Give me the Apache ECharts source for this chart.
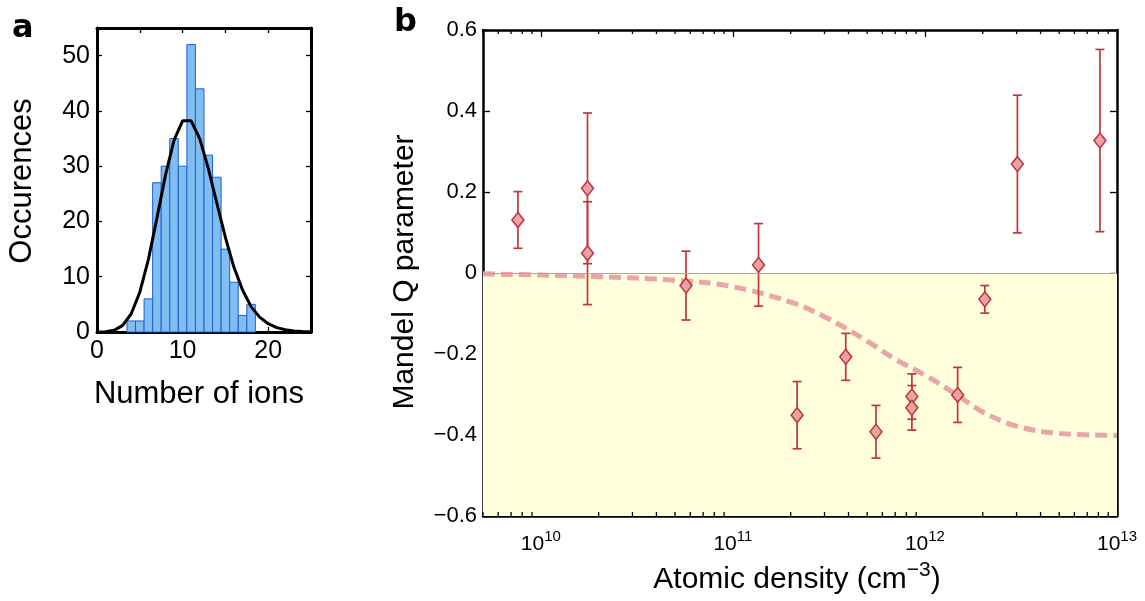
<!DOCTYPE html>
<html><head><meta charset="utf-8">
<script src="https://cdn.jsdelivr.net/npm/echarts@6/dist/echarts.min.js"></script>
<style>html,body{margin:0;padding:0;background:#fff}#c{width:1145px;height:601px}</style>
</head><body><div id="c"></div>
<script>
const FONT = "'Liberation Sans', Arial, Helvetica, sans-serif";

// ---- Panel a: histogram of ion numbers ----
const ionCounts   = [4, 5, 6, 7, 8, 9, 10, 11, 12, 13, 14, 15, 16, 17, 18];
const occurrences = [2, 2, 6, 27, 30, 35, 30, 52, 44, 32, 28, 15, 9, 3, 5];
const fitX = [0, 1, 2, 3, 4, 5, 6, 7, 8, 9, 10, 11, 12, 13, 14, 15, 16, 17, 18, 19, 20, 21, 22, 23, 24, 25];
const fitY = [0.01, 0.06, 0.3, 1.2, 3.3, 7.2, 13.1, 20.6, 28.4, 34.7, 38.2, 38.2, 35.0, 29.6, 23.3, 17.1, 11.7, 7.6, 4.6, 2.7, 1.5, 0.8, 0.4, 0.2, 0.1, 0.04];
const xTicksA = [0, 10, 20];

// ---- Panel b: Mandel Q parameter vs atomic density ----
const density = [7.6e9, 1.75e10, 1.75e10, 5.7e10, 1.36e11, 2.16e11, 3.87e11, 5.56e11, 8.55e11, 8.55e11, 1.48e12, 2.05e12, 3.03e12, 8.15e12];
const mandelQ = [0.131, 0.209, 0.049, -0.031, 0.020, -0.351, -0.207, -0.392, -0.305, -0.333, -0.301, -0.065, 0.269, 0.327];
const qError  = [0.070, 0.186, 0.127, 0.085, 0.102, 0.083, 0.058, 0.065, 0.056, 0.055, 0.068, 0.034, 0.170, 0.225];
const modelDensity = [5e9, 1e10, 2e10, 5e10, 1e11, 2e11, 3e11, 5e11, 7e11, 1e12, 1.5e12, 2e12, 3e12, 5e12, 1e13];
const modelQ       = [-0.002, -0.005, -0.009, -0.018, -0.034, -0.072, -0.108, -0.168, -0.213, -0.252, -0.304, -0.343, -0.378, -0.396, -0.401];
const majorDecades = [10, 11, 12, 13];
const minorMult = [2, 3, 4, 5, 6, 7, 8, 9];
const minorDecades = [9, 10, 11, 12];

const minorTicks = [];
minorDecades.forEach(d => minorMult.forEach(m => {
  const v = m * Math.pow(10, d);
  if (v >= 5e9 && v <= 1e13) minorTicks.push([v, 0]);
}));

const chart = echarts.init(document.getElementById('c'), null, {renderer: 'canvas'});

const axisLineBlack = w => ({show: true, onZero: false, lineStyle: {color: '#000', width: w}});
const tickIn = len => ({show: true, inside: true, length: len, lineStyle: {color: '#000', width: 1.3}});

function logLabel(v) {
  const e = Math.log10(v);
  const r = Math.round(e);
  if (Math.abs(e - r) > 1e-6 || majorDecades.indexOf(r) < 0) return '';
  return '{b|10}{s|' + r + '}';
}
function qLabel(v) {
  const r = Math.round(v * 10) / 10;
  if (Math.abs(r) < 1e-9) return '0';
  return (r < 0 ? '\u2212' : '') + Math.abs(r).toFixed(1);
}

const option = {
  backgroundColor: '#fff',
  animation: false,
  textStyle: {fontFamily: FONT},
  grid: [
    {left: 97, top: 28, width: 214, height: 304, outerBoundsMode: 'none', containLabel: false},
    {left: 483, top: 30, width: 634, height: 486, outerBoundsMode: 'none', containLabel: false}
  ],
  xAxis: [
    {gridIndex: 0, type: 'value', min: 0, max: 25, interval: 5, position: 'bottom',
     axisLine: axisLineBlack(3), axisTick: tickIn(5), splitLine: {show: false},
     axisLabel: {fontSize: 25, color: '#000', margin: 7, fontFamily: FONT,
       formatter: v => xTicksA.indexOf(v) >= 0 ? String(v) : ''}},
    {gridIndex: 0, type: 'value', min: 0, max: 25, interval: 5, position: 'top',
     axisLine: axisLineBlack(3), axisTick: tickIn(5), axisLabel: {show: false}, splitLine: {show: false}},
    {gridIndex: 1, type: 'log', logBase: 10, min: 5e9, max: 1e13, position: 'bottom',
     axisLine: axisLineBlack(2.5), axisTick: tickIn(7), splitLine: {show: false}, minorTick: {show: false},
     axisLabel: {color: '#000', margin: 13, fontFamily: FONT, formatter: logLabel,
       showMinLabel: true, showMaxLabel: true, hideOverlap: false,
       rich: {b: {fontSize: 21, fontFamily: FONT, color: '#000'},
              s: {fontSize: 15, fontFamily: FONT, color: '#000', padding: [0, 0, 16, 0]}}}},
    {gridIndex: 1, type: 'log', logBase: 10, min: 5e9, max: 1e13, position: 'top',
     axisLine: axisLineBlack(2.5), axisTick: tickIn(7), axisLabel: {show: false}, splitLine: {show: false}}
  ],
  yAxis: [
    {gridIndex: 0, type: 'value', min: 0, max: 55, interval: 10, position: 'left',
     axisLine: axisLineBlack(3), axisTick: tickIn(5), splitLine: {show: false},
     axisLabel: {fontSize: 25, color: '#000', margin: 7, fontFamily: FONT,
       formatter: v => (v % 10 === 0 ? String(v) : '')}},
    {gridIndex: 0, type: 'value', min: 0, max: 55, interval: 10, position: 'right',
     axisLine: axisLineBlack(3), axisTick: tickIn(5), axisLabel: {show: false}, splitLine: {show: false}},
    {gridIndex: 1, type: 'value', min: -0.6, max: 0.6, interval: 0.2, position: 'left',
     axisLine: axisLineBlack(2.5), axisTick: tickIn(7), splitLine: {show: false},
     axisLabel: {fontSize: 22, color: '#000', margin: 6, fontFamily: FONT, formatter: qLabel}},
    {gridIndex: 1, type: 'value', min: -0.6, max: 0.6, interval: 0.2, position: 'right',
     axisLine: axisLineBlack(2.5), axisTick: tickIn(7), axisLabel: {show: false}, splitLine: {show: false}}
  ],
  graphic: [
    {type: 'text', left: 12, top: 13, style: {text: 'a', font: "bold 32px 'DejaVu Sans', sans-serif", fill: '#000'}},
    {type: 'text', left: 394, top: 7, style: {text: 'b', font: "bold 32px 'DejaVu Sans', sans-serif", fill: '#000'}},
    {type: 'text', x: 22, y: 181, rotation: Math.PI / 2,
     style: {text: 'Occurences', font: "31px " + FONT, fill: '#000', align: 'center', verticalAlign: 'middle'}},
    {type: 'text', x: 199, y: 394,
     style: {text: 'Number of ions', font: "31px " + FONT, fill: '#000', align: 'center', verticalAlign: 'middle'}},
    {type: 'text', x: 405, y: 272, rotation: Math.PI / 2,
     style: {text: 'Mandel Q parameter', font: "30px " + FONT, fill: '#000', align: 'center', verticalAlign: 'middle'}},
    {type: 'text', x: 797, y: 580,
     style: {text: '{t|Atomic density (cm}{s|\u22123}{t|)}', fill: '#000', align: 'center', verticalAlign: 'middle',
       rich: {t: {fontSize: 30, fontFamily: FONT, fill: '#000'},
              s: {fontSize: 21, fontFamily: FONT, fill: '#000', padding: [0, 0, 20, 0]}}}}
  ],
  series: [
    {
      type: 'custom', name: 'histogram', xAxisIndex: 0, yAxisIndex: 0, z: 2,
      data: ionCounts.map((x, i) => [x, occurrences[i]]),
      encode: {x: 0, y: 1},
      renderItem: (params, api) => {
        const x = api.value(0), y = api.value(1);
        const p1 = api.coord([x - 0.5, y]);
        const p2 = api.coord([x + 0.5, 0]);
        return {type: 'rect',
          shape: {x: p1[0], y: p1[1], width: p2[0] - p1[0], height: p2[1] - p1[1]},
          style: {fill: '#80BDF0', stroke: '#1E60D4', lineWidth: 1}};
      }
    },
    {
      type: 'line', name: 'fit', xAxisIndex: 0, yAxisIndex: 0, z: 3,
      data: fitX.map((x, i) => [x, fitY[i]]),
      showSymbol: false, symbol: 'none', smooth: false,
      lineStyle: {color: '#000', width: 3}
    },
    {
      type: 'line', name: 'region', xAxisIndex: 2, yAxisIndex: 2, z: 1,
      data: [[1e11, 0]], symbol: 'none', lineStyle: {opacity: 0}, silent: true,
      markArea: {silent: true, itemStyle: {color: '#FFFFDC'},
        data: [[{yAxis: -0.6}, {yAxis: 0}]]},
      markLine: {silent: true, symbol: ['none', 'none'], label: {show: false},
        lineStyle: {color: '#A8A8A8', width: 1, type: 'solid'},
        data: [{yAxis: 0}]}
    },
    {
      type: 'line', name: 'model', xAxisIndex: 2, yAxisIndex: 2, z: 3,
      data: modelDensity.map((x, i) => [x, modelQ[i]]),
      symbol: 'none', smooth: 0.4,
      lineStyle: {color: '#E9A6A9', width: 5, type: [12, 6]}
    },
    {
      type: 'custom', name: 'errors', xAxisIndex: 2, yAxisIndex: 2, z: 4,
      data: density.map((x, i) => [x, mandelQ[i], qError[i]]),
      encode: {x: 0, y: 1},
      renderItem: (params, api) => {
        const x = api.value(0), y = api.value(1), e = api.value(2);
        const t = api.coord([x, y + e]);
        const b = api.coord([x, y - e]);
        const st = {stroke: '#C4363B', lineWidth: 1.7};
        const hw = 4.5;
        return {type: 'group', children: [
          {type: 'line', shape: {x1: t[0], y1: t[1], x2: b[0], y2: b[1]}, style: st},
          {type: 'line', shape: {x1: t[0] - hw, y1: t[1], x2: t[0] + hw, y2: t[1]}, style: st},
          {type: 'line', shape: {x1: b[0] - hw, y1: b[1], x2: b[0] + hw, y2: b[1]}, style: st}
        ]};
      }
    },
    {
      type: 'scatter', name: 'Q', xAxisIndex: 2, yAxisIndex: 2, z: 5,
      data: density.map((x, i) => [x, mandelQ[i]]),
      symbol: 'diamond', symbolSize: [12, 15],
      itemStyle: {color: '#E9A2A5', borderColor: '#BF333A', borderWidth: 1.5, opacity: 1}
    },
    {
      type: 'custom', name: 'minorTicks', xAxisIndex: 2, yAxisIndex: 2, z: 6, silent: true,
      data: minorTicks, encode: {x: 0, y: 1},
      renderItem: (params, api) => {
        const v = api.value(0);
        const b = api.coord([v, -0.6]);
        const t = api.coord([v, 0.6]);
        const st = {stroke: '#000', lineWidth: 1.3};
        return {type: 'group', children: [
          {type: 'line', shape: {x1: b[0], y1: b[1], x2: b[0], y2: b[1] - 4}, style: st},
          {type: 'line', shape: {x1: t[0], y1: t[1], x2: t[0], y2: t[1] + 4}, style: st}
        ]};
      }
    }
  ]
};
chart.setOption(option);
</script>
</body></html>
